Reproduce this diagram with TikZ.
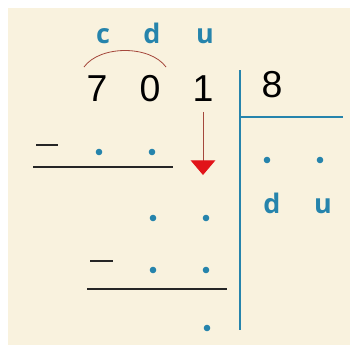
\documentclass[tikz,border=0pt]{standalone}
\usepackage{fontspec}
\setmainfont{Liberation Sans}
\newfontfamily\placefont{Open Sans}
\usetikzlibrary{arrows.meta}

\definecolor{paper}{RGB}{249,242,222}
\definecolor{inkblue}{RGB}{38,132,172}
\definecolor{arcred}{RGB}{165,72,60}
\definecolor{tipred}{RGB}{225,20,25}

\begin{document}
\begin{tikzpicture}[x=0.03cm, y=-0.03cm,
    digit/.style={font=\fontsize{32}{32}\selectfont, inner sep=0pt, anchor=base},
    place/.style={font=\placefont\bfseries\fontsize{23}{23}\selectfont, text=inkblue, inner sep=0pt, anchor=base},
    dot/.style={circle, fill=inkblue, inner sep=0pt, minimum size=5.6pt},
    rule/.style={line width=1.5pt, black!85},
    bar/.style={line width=2.4pt, inkblue}]
    % fondo
    \useasboundingbox (0,0) rectangle (358,351);
    \fill[paper] (8,8) rectangle (350,345);

    % c d u
    \node[place] (pc) at (103,43) {c};
    \node[place] (pd) at (152,43) {d};
    \node[place] (pu) at (205,43) {u};
    \draw[arcred, line width=0.7pt] (84,67) .. controls (100,45) and (150,45) .. (166,67);

    % dividendo y divisor
    \node[digit] (d7) at (97,101) {7};
    \node[digit] (d0) at (150,101) {0};
    \node[digit] (d1) at (203,101) {1};
    \node[digit] (v8) at (272,97) {8};

    % casilla
    \coordinate (bartop) at (240,70);
    \coordinate (barbot) at (240,330);
    \coordinate (barend) at (343,117);
    \draw[bar] (bartop) -- (barbot);
    \draw[bar] (bartop |- barend) -- (barend);

    % bajar la cifra
    \coordinate (arrtip) at (203,175);
    \draw[arcred, line width=0.8pt, -{Triangle[length=12.5pt, width=21pt, color=tipred, fill=tipred]}]
        ([yshift=-9pt]d1.south) -- (arrtip);

    % primera resta
    \draw[rule] (36,145) -- (58,145);
    \draw[rule] (33,167) -- (173,167);
    % segunda resta
    \draw[rule] (90,261) -- (113,261);
    \draw[rule] (87,289) -- (227,289);

    % puntos
    \foreach \px/\py [count=\i] in {99/152, 152/152, 153/218, 206/218,
                                    153/270, 206/270, 207/328, 267/160, 320/160}
        \node[dot] (dot\i) at (\px,\py) {};

    % cociente
    \node[place] (qd) at (272,213) {d};
    \node[place] (qu) at (323,213) {u};
\end{tikzpicture}
\end{document}
